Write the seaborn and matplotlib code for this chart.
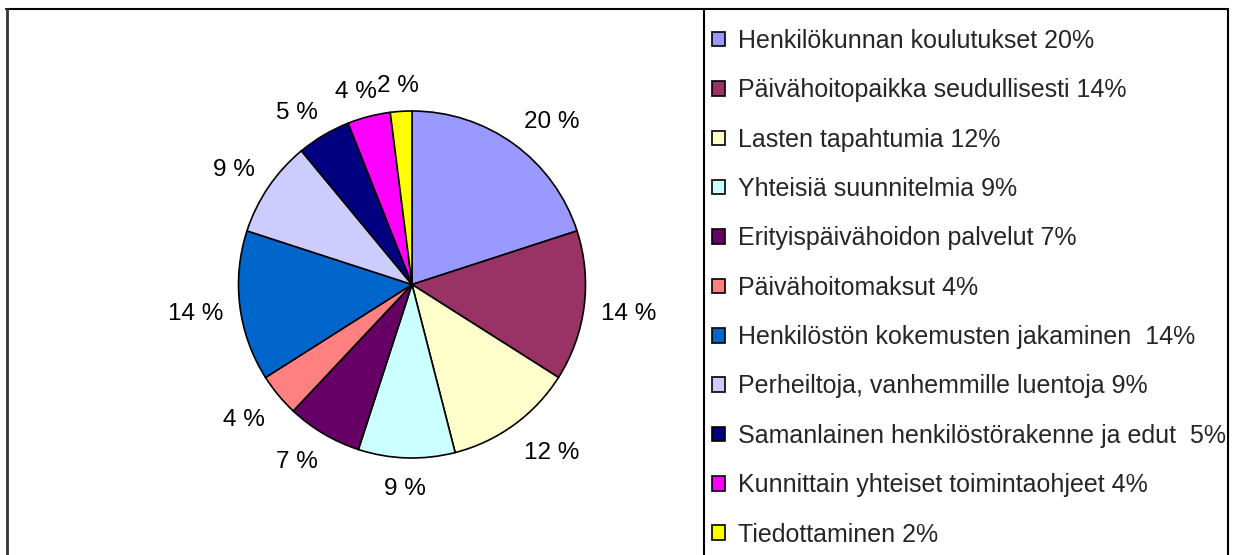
import matplotlib
matplotlib.use("Agg")
import numpy as np
import matplotlib.pyplot as plt
import seaborn as sns
from matplotlib.lines import Line2D
from matplotlib.patches import Patch

labels = ["Henkilökunnan koulutukset 20%", "Päivähoitopaikka seudullisesti 14%",
          "Lasten tapahtumia 12%", "Yhteisiä suunnitelmia 9%",
          "Erityispäivähoidon palvelut 7%", "Päivähoitomaksut 4%",
          "Henkilöstön kokemusten jakaminen  14%", "Perheiltoja, vanhemmille luentoja 9%",
          "Samanlainen henkilöstörakenne ja edut  5%", "Kunnittain yhteiset toimintaohjeet 4%",
          "Tiedottaminen 2%"]
values = [20, 14, 12, 9, 7, 4, 14, 9, 5, 4, 2]
colors = ["#9999FF", "#993366", "#FFFFCC", "#CCFFFF", "#660066", "#FF8080",
          "#0066CC", "#CCCCFF", "#000080", "#FF00FF", "#FFFF00"]

sns.set_theme(style="white")
plt.rcParams['font.family'] = ['Liberation Sans', 'DejaVu Sans']
pal = sns.color_palette(colors)

W, H = 1235, 555
fig = plt.figure(figsize=(W / 100, H / 100), dpi=100)
fig.patch.set_facecolor("white")

# pie centre (412, 284.5) px, radius 173.5 px
cx, cy, r, half = 412, H - 284.5, 173.5, 260
ax = fig.add_axes([(cx - half) / W, (cy - half) / H, 2 * half / W, 2 * half / H])
wedges, texts, autotexts = ax.pie(values, colors=pal, startangle=90, counterclock=False,
                                  autopct=lambda p: f"{p:.0f} %", pctdistance=1.2,
                                  wedgeprops=dict(edgecolor="black", linewidth=1.2),
                                  textprops=dict(fontsize=17.5, color="black"))
ax.set_xlim(-half / r, half / r)
ax.set_ylim(-half / r, half / r)
ax.set_aspect("equal")
ax.axis("off")

# place labels like office charts: text box corner a fixed gap outside the rim
renderer = fig.canvas.get_renderer()
gap = 17 / r
for w, t in zip(wedges, autotexts):
    ang = np.deg2rad((w.theta1 + w.theta2) / 2)
    ux, uy = np.cos(ang), np.sin(ang)
    bb = t.get_window_extent(renderer)
    hw, hh = bb.width / 2 / r, 11 / r
    sx, sy = np.clip(ux * 1.7, -1, 1), np.clip(uy * 1.7, -1, 1)
    t.set_position(((1 + gap) * ux + sx * hw, (1 + gap) * uy + sy * hh - 3 / r))
    t.set_ha("center")
    t.set_va("center")

handles = [Patch(facecolor=c, edgecolor="black", linewidth=1.2) for c in pal]
fig.legend(handles, labels, loc="upper left", bbox_to_anchor=(712 / W, 1 - 29 / H),
           frameon=False, fontsize=18, handlelength=0.52, handleheight=0.52,
           handletextpad=0.5, labelspacing=1.014, borderaxespad=0, borderpad=0)

# frame lines
def fline(x0, y0, x1, y1, lw=1.5, c="black"):
    fig.add_artist(Line2D([x0 / W, x1 / W], [1 - y0 / H, 1 - y1 / H], color=c, lw=lw))

fline(6, 9, 1228, 9)
fline(7, 9, 7, 555, lw=2, c="#333333")
fline(704, 9, 704, 555)
fline(1228, 9, 1228, 555)

fig.savefig("out.png", dpi=100, facecolor="white")
